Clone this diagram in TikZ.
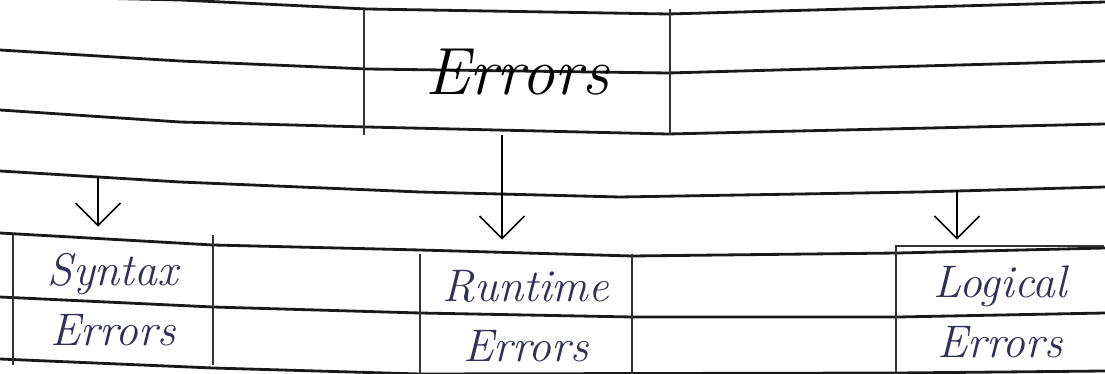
\documentclass[tikz,border=0pt]{standalone}
\usepackage{tikz}
\usetikzlibrary{arrows.meta}
\usetikzlibrary{calc}
\definecolor{ink}{HTML}{2F3158}
\tikzset{paper rule/.style={line width=1.6pt,black!90}}
\tikzset{label box/.style={
    minimum width=#1,inner sep=0pt,align=center,text=ink,
    font=\fontsize{26}{34}\selectfont\itshape}}
\tikzset{box edge/.style={line width=1pt,black!80}}
\tikzset{down arrow/.style={line width=.9pt,
    -{Straight Barb[length=.45cm,width=.9cm]}}}

\begin{document}
\begin{tikzpicture}[x=.02cm,y=-.02cm]
  \useasboundingbox (0,0) rectangle (1105,374);
  % ruled paper
  \draw[paper rule] (0,-4) -- (180,0) -- (367,9) -- (668,14) -- (1105,2);
  \draw[paper rule] (0,50) -- (180,61) -- (367,69) -- (668,73) -- (1105,61);
  \draw[paper rule] (0,110) -- (180,122) -- (367,127) -- (668,134) -- (1105,124);
  \draw[paper rule] (0,171) -- (180,182) -- (420,192) -- (620,197) -- (920,192) -- (1105,187);
  \draw[paper rule] (0,233) -- (213,245) -- (420,250) -- (632,256) -- (898,253) -- (1105,248);
  \draw[paper rule] (0,297) -- (213,307) -- (420,313) -- (632,317) -- (898,317) -- (1105,313);
  \draw[paper rule] (0,359) -- (213,368) -- (420,374) -- (898,373) -- (1105,371);

  \node[label box=6.12cm,minimum height=2.52cm,text=black,
    font=\fontsize{38}{40}\selectfont\itshape] at (517,72) (errors) {Errors};
  \node[label box=4cm,minimum height=2.6cm] at (113,300) (syntax) {Syntax\\Errors};
  \node[label box=4.24cm,minimum height=2.48cm] at (526,316) (runtime) {Runtime\\Errors};
  \node[label box=4.16cm,minimum height=2.64cm] at (1000,312) (logical) {Logical\\Errors};

  \draw[box edge] (errors.north west) -- (errors.south west)
    (errors.north east) -- (errors.south east);
  \draw[box edge] (syntax.north west) -- (syntax.south west)
    (syntax.north east) -- (syntax.south east);
  \draw[box edge] (runtime.north west) -- (runtime.south west)
    (runtime.north east) -- (runtime.south east);
  \draw[box edge] (logical.north east) -- (logical.north west) -- (logical.south west);

  \coordinate (syntax in) at (98,178);
  \coordinate (logical in) at (957,191);
  \draw[down arrow,shorten >=.16cm] (syntax in) -- (syntax in |- syntax.north);
  \draw[down arrow,shorten >=.28cm] ([xshift=-.3cm]errors.south)
    -- ([xshift=-.3cm]errors.south |- runtime.north);
  \draw[down arrow,shorten >=.12cm] (logical in) -- (logical in |- logical.north);
\end{tikzpicture}
\end{document}
